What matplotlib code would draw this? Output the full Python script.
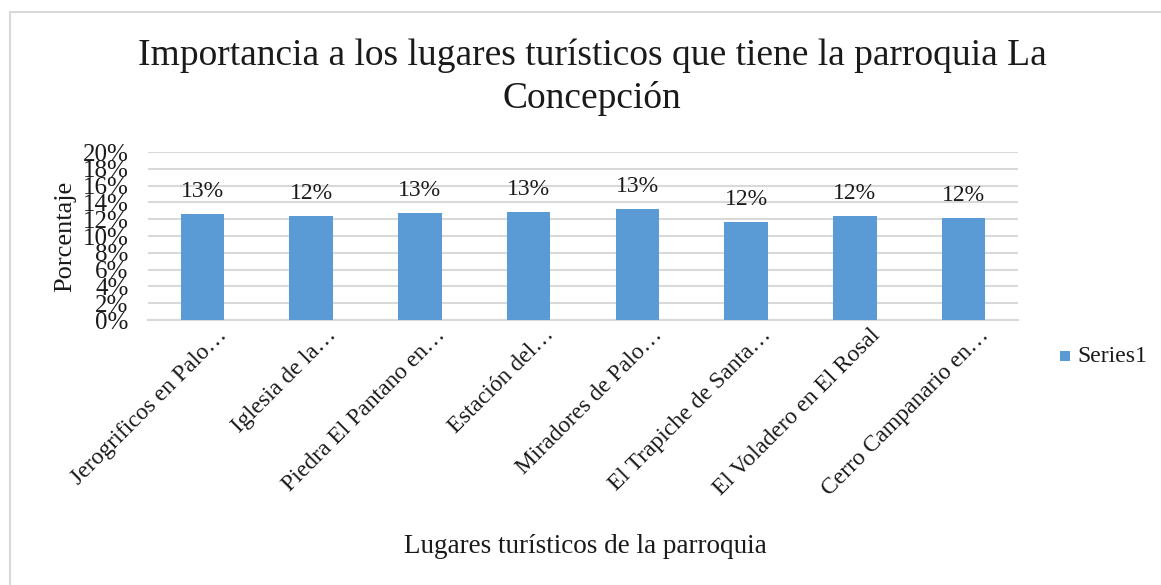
import matplotlib
matplotlib.use("Agg")
import matplotlib.pyplot as plt
import matplotlib.transforms as mtransforms
from matplotlib.patches import Rectangle
from matplotlib.ticker import MultipleLocator, FuncFormatter

plt.rcParams['font.family'] = ['Liberation Serif', 'DejaVu Serif']

categories = ["Jerogrificos en Palo…", "Iglesia de la…", "Piedra El Pantano en…",
              "Estación del…", "Miradores de Palo…", "El Trapiche de Santa…",
              "El Voladero en El Rosal", "Cerro Campanario en…"]
values = [0.126, 0.124, 0.127, 0.129, 0.132, 0.117, 0.124, 0.122]
series_name = "Series1"
title_lines = ["Importancia a los lugares turísticos que tiene la parroquia La", "Concepción"]
xlabel = "Lugares turísticos de la parroquia"
ylabel = "Porcentaje"

W, H = 1161, 585
fig = plt.figure(figsize=(W / 100, H / 100), dpi=100)
fig.patch.set_facecolor('white')

# chart frame
fig.patches.append(Rectangle((10 / W, -0.1), 1.2, 1 - 12 / H + 0.1, transform=fig.transFigure,
                             fill=False, edgecolor='#d9d9d9', linewidth=1.5))

ax = fig.add_axes([148 / W, 1 - 320 / H, 870 / W, 168 / H])
x = list(range(len(categories)))
bars = ax.bar(x, values, width=0.4, color='#5B9BD5', label=series_name, zorder=3)
ax.set_xlim(-0.5, len(categories) - 0.5)
ax.set_ylim(0, 0.2)
ax.yaxis.set_major_locator(MultipleLocator(0.02))
ax.yaxis.set_major_formatter(FuncFormatter(lambda v, p: f"{v*100:.0f}%"))
ax.grid(axis='y', color='#d9d9d9', linewidth=1.5, zorder=0)
for s in ['top', 'right', 'left']:
    ax.spines[s].set_visible(False)
ax.spines['bottom'].set_color('#d9d9d9')
ax.spines['bottom'].set_linewidth(1.5)
ax.tick_params(axis='both', length=0, labelsize=17, colors='#1a1a1a')
ax.tick_params(axis='y', pad=14, labelsize=18)
ax.set_xticks(x)
ax.set_xticklabels(categories, rotation=45, ha='right', va='center', rotation_mode='anchor')
offset = mtransforms.ScaledTranslation(22 / 100, -7 / 100, fig.dpi_scale_trans)
for lbl in ax.get_xticklabels():
    lbl.set_transform(lbl.get_transform() + offset)

for b, v in zip(bars, values):
    ax.annotate(f"{round(v*100):.0f}%", (b.get_x() + b.get_width() / 2, v),
                xytext=(0, 17), textcoords='offset pixels', ha='center', va='baseline',
                fontsize=17, color='#1a1a1a')

fig.text(592 / W, 1 - 65 / H, title_lines[0], ha='center', va='baseline', fontsize=27,
         color='#1a1a1a')
fig.text(592 / W, 1 - 108 / H, title_lines[1], ha='center', va='baseline', fontsize=27,
         color='#1a1a1a')
fig.text(65 / W, 1 - 236 / H, ylabel, rotation=90, ha='center', va='center',
         fontsize=19, color='#1a1a1a')
fig.text(585 / W, 1 - 553 / H, xlabel, ha='center', va='baseline', fontsize=19.5,
         color='#1a1a1a')

# legend
fig.patches.append(Rectangle((1060 / W, 1 - 361 / H), 10 / W, 10 / H, transform=fig.transFigure,
                             facecolor='#5B9BD5', edgecolor='none'))
fig.text(1077 / W, 1 - 356 / H, series_name, ha='left', va='center', fontsize=17, color='#1a1a1a')

fig.savefig("out.png", dpi=100)
